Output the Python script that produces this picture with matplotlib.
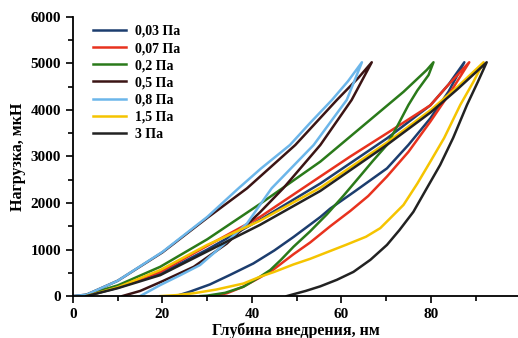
import matplotlib
matplotlib.use("Agg")
import matplotlib.pyplot as plt
from matplotlib.ticker import MultipleLocator

# load-unload loops: depth (nm) and load (uN), loading branch then unloading branch
h_003 = [3, 10, 19.5, 30, 41.8, 55.3, 70.2, 79.9, 84, 87.5,
         84, 79.9, 75, 70.2, 63, 57.5, 55.3, 49.3, 45, 40.3, 35, 30.6, 26, 23]
p_003 = [0, 180, 480, 1000, 1640, 2420, 3390, 4100, 4550, 5025,
         4400, 3820, 3250, 2745, 2250, 1880, 1700, 1270, 980, 700, 450, 250, 90, 0]

h_007 = [3, 10, 19.5, 30, 41.8, 55.3, 62, 70.2, 79.9, 84, 88.6,
         84.5, 79.9, 75, 70.2, 66, 62, 57.5, 53, 49.3, 44.8, 41.8, 38, 34.4, 31]
p_007 = [0, 200, 520, 1080, 1700, 2570, 3000, 3500, 4100, 4550, 5025,
         4400, 3750, 3100, 2570, 2150, 1830, 1500, 1150, 900, 570, 400, 200, 60, 0]

h_02 = [2, 10, 19.5, 30, 41.8, 55.3, 66.4, 73.9, 79.1, 80.6,
        79.5, 77, 75, 72.5, 70.2, 67, 64.2, 60.5, 56.8, 53, 49.3, 46.5, 44.1, 41.8, 38.1, 34, 30, 28.5]
p_02 = [0, 230, 630, 1220, 1980, 2890, 3785, 4390, 4860, 5025,
        4750, 4420, 4107, 3650, 3250, 2900, 2580, 2160, 1760, 1390, 1060, 780, 560, 415, 200, 70, 10, 0]

h_05 = [0, 3, 10, 20, 30, 38.9, 49.7, 59, 63.8, 66.8,
        62.3, 55.3, 47, 41.8, 34.4, 27, 20, 15, 11]
p_05 = [0, 30, 330, 940, 1680, 2316, 3247, 4215, 4690, 5025,
        4215, 3247, 2316, 1800, 1130, 630, 320, 110, 0]

h_08 = [0, 3, 10, 20, 30, 37, 42, 48.5, 53, 57.9, 61.5, 64.6,
        61.2, 53.8, 44.4, 38.9, 33, 28.4, 24, 19.5, 15]
p_08 = [0, 30, 330, 950, 1700, 2316, 2740, 3247, 3720, 4215, 4620, 5025,
        4215, 3247, 2316, 1560, 1050, 667, 450, 237, 0]

h_15 = [3, 10, 19.5, 30, 41.8, 55.3, 70.2, 80, 86, 91.8,
        89.5, 86.6, 83, 79.9, 77, 73.9, 71, 68.7, 65.5, 61, 57, 53, 49.3, 45,
        41.8, 38.1, 32, 26.9, 23, 19.5]
p_15 = [0, 190, 560, 1100, 1620, 2330, 3300, 4000, 4500, 5025,
        4600, 4110, 3400, 2890, 2420, 1960, 1680, 1460, 1275, 1100, 950, 800, 680, 520,
        415, 270, 140, 60, 20, 0]

h_3 = [3, 10, 19.5, 30, 41.8, 55.3, 70.2, 80, 86, 92.5,
       90.5, 88.1, 85, 82.1, 79, 76.1, 73, 70.2, 66.5, 62.7, 59, 55.3, 52, 49.3, 47.8]
p_3 = [0, 170, 450, 960, 1530, 2260, 3250, 3950, 4450, 5025,
       4600, 4110, 3400, 2820, 2300, 1810, 1420, 1100, 780, 520, 350, 210, 110, 40, 0]

labels = ["0,03 Па", "0,07 Па", "0,2 Па", "0,5 Па", "0,8 Па", "1,5 Па", "3 Па"]
colors = ["#1c3d6e", "#e8321e", "#2a7a1a", "#3b1414", "#6cb6ea", "#f5c400", "#222222"]

plt.rcParams['font.family'] = ['Liberation Serif', 'DejaVu Serif']
plt.rcParams['font.weight'] = 'bold'

fig = plt.figure(figsize=(5.18, 3.38), dpi=100)
ax = fig.add_axes([0.141, 0.124, 0.859, 0.826])

series = [(h_003, p_003), (h_007, p_007), (h_02, p_02), (h_05, p_05),
          (h_08, p_08), (h_15, p_15), (h_3, p_3)]
for (h, p), lab, col in zip(series, labels, colors):
    ax.plot(h, p, color=col, lw=1.8, label=lab)

ax.set_xlim(0, 99.5)
ax.set_ylim(0, 6000)
ax.xaxis.set_major_locator(MultipleLocator(20))
ax.xaxis.set_minor_locator(MultipleLocator(10))
ax.yaxis.set_major_locator(MultipleLocator(1000))
ax.yaxis.set_minor_locator(MultipleLocator(500))
ax.spines['top'].set_visible(False)
ax.spines['right'].set_visible(False)
for s in ['left', 'bottom']:
    ax.spines[s].set_linewidth(1.3)
ax.tick_params(which='major', direction='out', length=5, width=1.2, labelsize=11)
ax.tick_params(which='minor', direction='out', length=3.5, width=1.2)
for t in ax.get_xticklabels() + ax.get_yticklabels():
    t.set_fontweight('bold')

ax.set_xlabel("Глубина внедрения, нм", fontsize=11.5, fontweight='bold', labelpad=1)
ax.set_ylabel("Нагрузка, мкН", fontsize=11.5, fontweight='bold', labelpad=3)

leg = ax.legend(loc='upper left', bbox_to_anchor=(0.166, 0.947), bbox_transform=fig.transFigure,
                frameon=False, fontsize=10, handlelength=2.4, handletextpad=0.6,
                labelspacing=0.3, borderpad=0)
for t in leg.get_texts():
    t.set_fontweight('bold')

fig.savefig("out.png", dpi=100)
